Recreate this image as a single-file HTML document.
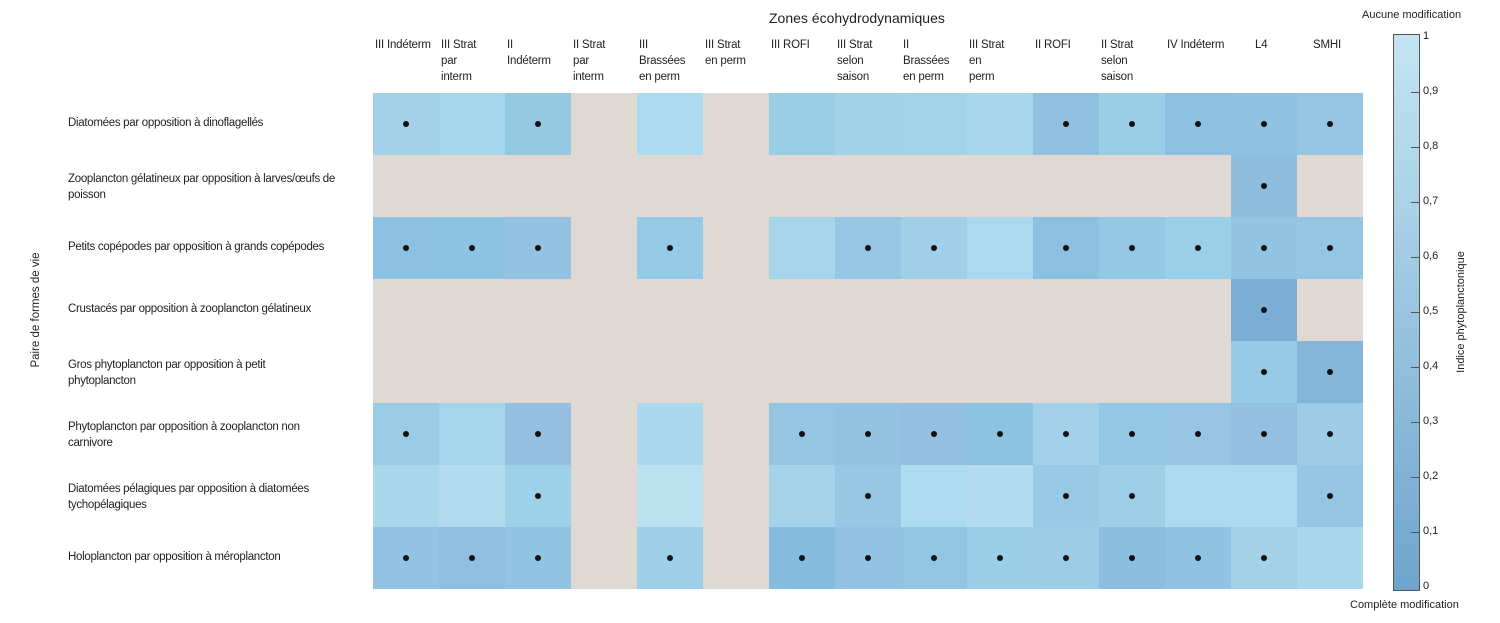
<!DOCTYPE html>
<html><head><meta charset="utf-8"><style>
body{margin:0;width:1500px;height:623px;background:#fff;position:relative;overflow:hidden;font-family:"Liberation Sans",sans-serif;color:#222}
.c{position:absolute;width:66px;height:62px}
.d{position:absolute;width:6px;height:6px;border-radius:50%;background:#111;left:30px;top:28px}
.h{position:absolute;font-size:11.5px;line-height:16px;letter-spacing:-0.2px;width:64px}
.r{position:absolute;left:68px;font-size:11.5px;line-height:16px;letter-spacing:-0.3px;width:300px}
.t{position:absolute;font-size:11px}
</style></head><body>
<div class="t" style="left:769px;top:10px;font-size:14px">Zones écohydrodynamiques</div>
<div class="t" style="left:1362px;top:9px">Aucune modification</div>
<div class="t" style="left:1350px;top:599px">Complète modification</div>
<div class="t" style="top:310px;font-size:11.5px;transform:translate(-50%,-50%) rotate(-90deg);left:36px;white-space:nowrap">Paire de formes de vie</div>
<div class="t" style="left:1461px;top:312px;transform:translate(-50%,-50%) rotate(-90deg);white-space:nowrap">Indice phytoplanctonique</div>
<div style="position:absolute;left:1393px;top:34px;width:25px;height:555px;border:1px solid #555;background:linear-gradient(#c4e5f3,#6fa5cd)"></div>
<div id="g"></div>
<script>
var B='#e0d8d3';
var data=[
[['#a2d1e8',1],['#a5d5ea',0],['#94c9e2',1],[B],['#acdaee',0],[B],['#99cee6',0],['#a0d2e8',0],['#a2d3e9',0],['#a8d6eb',0],['#8fc0e0',1],['#9acde6',1],['#8cc0e0',1],['#8fc2e1',1],['#96c4e3',1]],
[[B],[B],[B],[B],[B],[B],[B],[B],[B],[B],[B],[B],[B],['#8dbee0',1],[B]],
[['#8cc1e1',1],['#8dc3e2',1],['#94c2e2',1],[B],['#94cae5',1],[B],['#a7d6eb',0],['#97c6e4',1],['#a2cfe8',1],['#abdaee',0],['#8dc0e0',1],['#95c8e4',1],['#9bcfe7',1],['#92c4e2',1],['#94c6e3',1]],
[[B],[B],[B],[B],[B],[B],[B],[B],[B],[B],[B],[B],[B],['#7aaed4',1],[B]],
[[B],[B],[B],[B],[B],[B],[B],[B],[B],[B],[B],[B],[B],['#97cae5',1],['#84b6da',1]],
[['#9acce6',1],['#a5d5ea',0],['#95c0e1',1],[B],['#abd8ed',0],[B],['#94c6e3',1],['#94c3e2',1],['#95bfe1',1],['#8cc3e0',1],['#a2d1e9',1],['#94c7e3',1],['#98c5e4',1],['#93bfe0',1],['#9fcbe6',1]],
[['#a9d7ec',0],['#b2dbee',0],['#9dd1e8',1],[B],['#bbe1f1',0],[B],['#a5d4ea',0],['#96c8e4',1],['#addbef',0],['#b4def0',0],['#99cae5',1],['#9dcfe7',1],['#addaee',0],['#addaee',0],['#95c5e3',1]],
[['#92c3e2',1],['#8fbee0',1],['#90c4e2',1],[B],['#9dcfe8',1],[B],['#86bddf',1],['#93c2e2',1],['#92c5e2',1],['#9acde6',1],['#9ccce6',1],['#8bbedf',1],['#90c3e1',1],['#a2d1e8',1],['#a9d7ec',0]]];
var heads=['III Indéterm','III Strat<br>par<br>interm','II<br>Indéterm','II Strat<br>par<br>interm','III<br>Brassées<br>en perm','III Strat<br>en perm','III ROFI','III Strat<br>selon<br>saison','II<br>Brassées<br>en perm','III Strat<br>en<br>perm','II ROFI','II Strat<br>selon<br>saison','IV Indéterm','L4','SMHI'];
var rows=['Diatomées par opposition à dinoflagellés','Zooplancton gélatineux par opposition à larves/œufs de<br>poisson','Petits copépodes par opposition à grands copépodes','Crustacés par opposition à zooplancton gélatineux','Gros phytoplancton par opposition à petit<br>phytoplancton','Phytoplancton par opposition à zooplancton non<br>carnivore','Diatomées pélagiques par opposition à diatomées<br>tychopélagiques','Holoplancton par opposition à méroplancton'];
var h='';
for(var i=0;i<8;i++){var y=93+i*62;
 h+='<div class="r" style="top:'+(y+(rows[i].indexOf('<br>')>0?16:22))+'px">'+rows[i]+'</div>';
 for(var j=0;j<15;j++){var c=data[i][j];h+='<div class="c" style="left:'+(373+j*66)+'px;top:'+y+'px;background:'+c[0]+'">'+(c[1]?'<div class="d"></div>':'')+'</div>';}}
for(var j=0;j<15;j++){h+='<div class="h" style="left:'+(375+j*66)+'px;top:37px'+(j==13?';left:'+(375+j*66+22)+'px':'')+(j==14?';left:'+(375+j*66+14)+'px':'')+'">'+heads[j]+'</div>';}
var lab=['0','0,1','0,2','0,3','0,4','0,5','0,6','0,7','0,8','0,9','1'];
for(var k=0;k<=10;k++){var ty=587-k*55;
 if(k>0&&k<10)h+='<div style="position:absolute;left:1411px;top:'+ty+'px;width:8px;height:1px;background:#555"></div>';
 h+='<div class="t" style="left:1423px;top:'+(ty-7)+'px">'+lab[k]+'</div>';}
document.getElementById('g').innerHTML=h;
</script>
</body></html>
